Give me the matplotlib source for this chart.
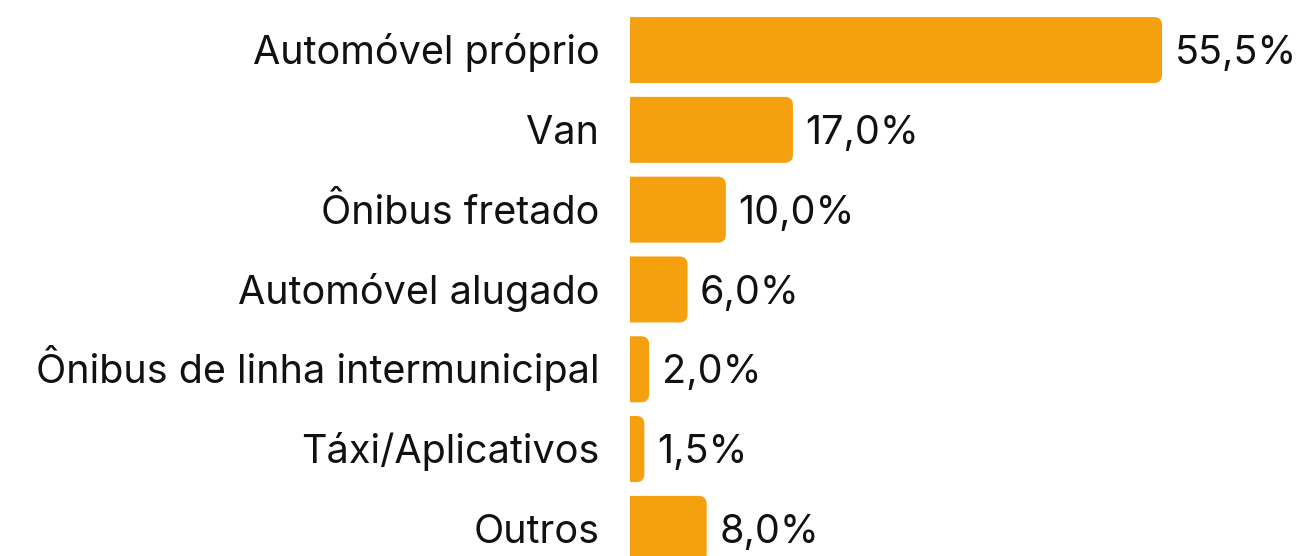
import matplotlib.pyplot as plt
from matplotlib.patches import PathPatch
from matplotlib.path import Path

categories = ['Automóvel próprio', 'Van', 'Ônibus fretado', 'Automóvel alugado',
              'Ônibus de linha intermunicipal', 'Táxi/Aplicativos', 'Outros']
values = [55.5, 17.0, 10.0, 6.0, 2.0, 1.5, 8.0]
value_labels = ['55,5%', '17,0%', '10,0%', '6,0%', '2,0%', '1,5%', '8,0%']

bar_color = '#F5A00E'
font = 'Inter'
fsize = 28.5


def right_rounded_bar(w, yc, h, rx, ry):
    # bar from x=0 to w, square on the left, rounded on the right
    rx = min(rx, w / 2)
    ry = min(ry, h / 2)
    y0, y1 = yc - h / 2, yc + h / 2
    verts = [(0, y0), (w - rx, y0), (w, y0), (w, y0 + ry),
             (w, y1 - ry), (w, y1), (w - rx, y1), (0, y1), (0, y0)]
    codes = [Path.MOVETO, Path.LINETO, Path.CURVE3, Path.CURVE3,
             Path.LINETO, Path.CURVE3, Path.CURVE3, Path.LINETO, Path.CLOSEPOLY]
    return Path(verts, codes)


fig = plt.figure(figsize=(12.99, 5.56), dpi=100)
ax = fig.add_axes([630 / 1299, 0, 669 / 1299, 1])

xmax = 669 / 9.586
ax.set_xlim(0, xmax)
ax.set_ylim(6.34, -0.627)

bar_h = 0.827

for i, (cat, v, lab) in enumerate(zip(categories, values, value_labels)):
    path = right_rounded_bar(v, i, bar_h, 0.85, 0.105)
    ax.add_patch(PathPatch(path, facecolor=bar_color, edgecolor='none', clip_on=False))
    ax.annotate(lab, xy=(v, i), xytext=(9, -10.2), textcoords='offset points',
                ha='left', va='baseline', fontsize=fsize, family=font, color='#111111')
    ax.annotate(cat, xy=(0, i), xytext=(-22, -10.2), textcoords='offset points',
                ha='right', va='baseline', fontsize=fsize, family=font, color='#111111',
                annotation_clip=False)

ax.axis('off')

plt.savefig('out.png', dpi=100)
